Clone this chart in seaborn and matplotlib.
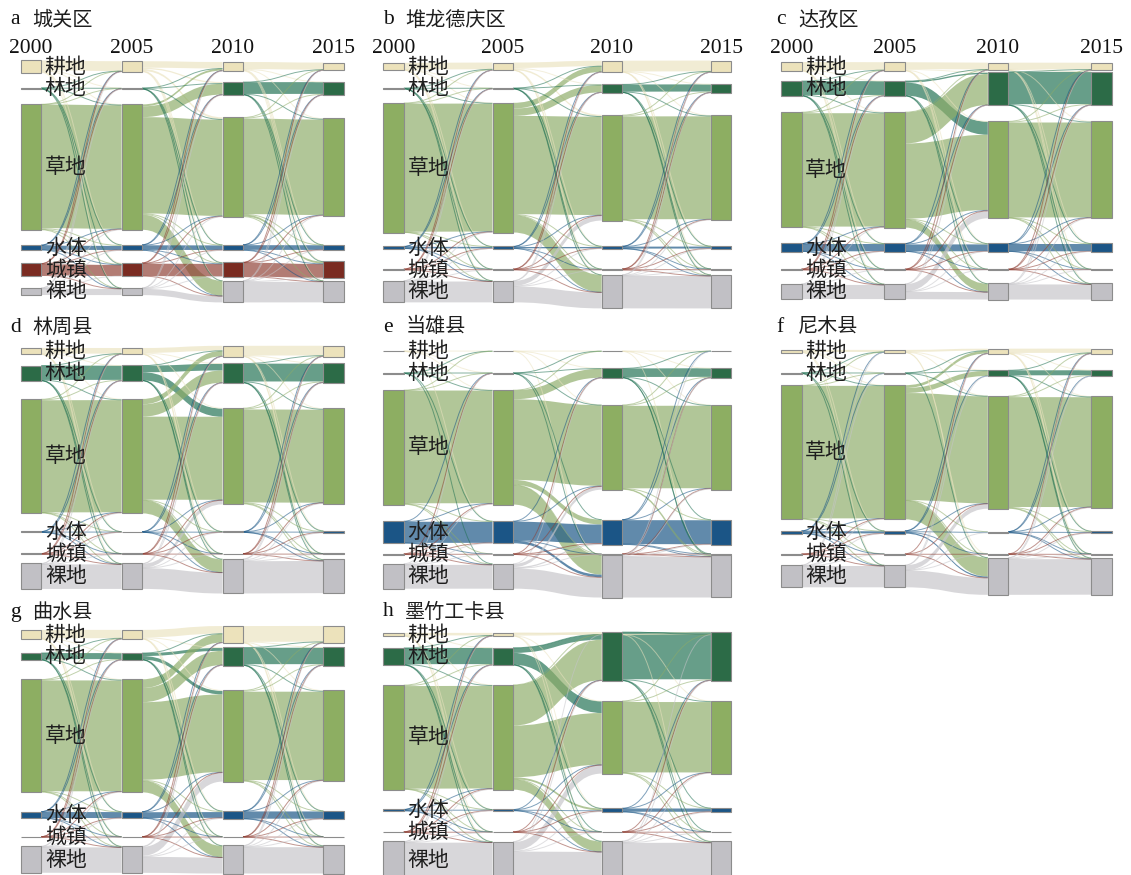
import numpy as np
import matplotlib
matplotlib.use("Agg")
import matplotlib.pyplot as plt
from matplotlib.path import Path
from matplotlib.patches import PathPatch, Rectangle
import seaborn as sns

sns.set_theme(style="white")
plt.rcParams["font.family"] = ["Noto Sans CJK SC", "DejaVu Sans"]

# ---------------------------------------------------------------------------
# Data: land-use transitions, % of county area.
# Rows = class at the start of the period, columns = class at its end,
# both in the order of CLASSES.
# ---------------------------------------------------------------------------
YEARS = ["2000", "2005", "2010", "2015"]
CLASSES = ["耕地", "林地", "草地", "水体", "城镇", "裸地"]
LETTERS = ["a", "b", "c", "d", "e", "f", "g", "h"]
COUNTIES = ["城关区", "堆龙德庆区", "达孜区", "林周县", "当雄县", "尼木县", "曲水县", "墨竹工卡县"]

chengguan_00_05 = [[6.0, 0.1, 0.3, 0.1, 0.8, 0.1],
                   [0.1, 0.3, 0.2, 0.1, 0.1, 0.1],
                   [0.1, 0.1, 75.6, 0.6, 0.3, 0.2],
                   [0.1, 0.1, 0.2, 2.5, 0.1, 0.1],
                   [0.1, 0.1, 0.2, 0.1, 6.8, 0.1],
                   [0.05, 0.05, 0.2, 0.1, 0.1, 3.8]]
chengguan_05_10 = [[3.95, 0.8, 1.2, 0.1, 0.3, 0.1],
                   [0.1, 0.3, 0.2, 0.05, 0.05, 0.05],
                   [1.2, 6.6, 58.9, 0.3, 0.5, 9.2],
                   [0.1, 0.1, 0.2, 2.8, 0.2, 0.1],
                   [0.1, 0.1, 0.2, 0.1, 7.6, 0.1],
                   [0.05, 0.05, 0.2, 0.1, 0.2, 3.8]]
chengguan_10_15 = [[4.35, 0.2, 0.3, 0.05, 0.5, 0.1],
                   [0.1, 7.2, 0.4, 0.05, 0.1, 0.1],
                   [0.2, 0.6, 58.4, 0.2, 1.2, 0.3],
                   [0.05, 0.05, 0.2, 2.85, 0.2, 0.1],
                   [0.05, 0.05, 0.1, 0.1, 8.45, 0.1],
                   [0.05, 0.1, 0.2, 0.1, 0.3, 12.6]]

duilong_00_05 = [[4.1, 0.05, 0.2, 0.05, 0.05, 0.05],
                 [0.1, 0.15, 0.2, 0.05, 0.05, 0.05],
                 [0.5, 0.2, 78.3, 0.2, 0.1, 0.3],
                 [0.05, 0.05, 0.2, 0.95, 0.05, 0.1],
                 [0.05, 0.05, 0.1, 0.05, 0.3, 0.05],
                 [0.05, 0.05, 0.3, 0.1, 0.05, 12.75]]
duilong_05_10 = [[3.3, 0.3, 1.0, 0.05, 0.1, 0.1],
                 [0.1, 0.1, 0.2, 0.05, 0.05, 0.05],
                 [3.5, 4.5, 60.1, 0.4, 0.2, 10.6],
                 [0.05, 0.05, 0.3, 0.8, 0.1, 0.1],
                 [0.05, 0.05, 0.1, 0.05, 0.25, 0.1],
                 [0.1, 0.1, 3.0, 0.3, 0.1, 9.7]]
duilong_10_15 = [[6.6, 0.1, 0.2, 0.05, 0.05, 0.1],
                 [0.1, 4.4, 0.4, 0.05, 0.05, 0.1],
                 [0.4, 0.6, 62.9, 0.2, 0.1, 0.5],
                 [0.05, 0.05, 0.2, 1.2, 0.05, 0.1],
                 [0.05, 0.05, 0.05, 0.05, 0.55, 0.05],
                 [0.1, 0.1, 0.3, 0.2, 0.1, 19.85]]

dazi_00_05 = [[4.8, 0.1, 0.4, 0.05, 0.05, 0.1],
              [0.1, 8.45, 0.4, 0.1, 0.05, 0.1],
              [0.2, 0.5, 69.35, 0.2, 0.05, 0.3],
              [0.05, 0.05, 0.2, 4.45, 0.05, 0.1],
              [0.05, 0.05, 0.1, 0.05, 0.3, 0.05],
              [0.05, 0.05, 0.3, 0.1, 0.05, 8.65]]
dazi_05_10 = [[4.15, 0.6, 0.3, 0.05, 0.05, 0.1],
              [0.1, 0.85, 8.0, 0.1, 0.05, 0.1],
              [0.3, 19.0, 46.0, 0.4, 0.05, 5.0],
              [0.05, 0.05, 0.5, 4.2, 0.05, 0.1],
              [0.05, 0.05, 0.1, 0.05, 0.25, 0.05],
              [0.05, 0.1, 4.5, 0.1, 0.05, 4.5]]
dazi_10_15 = [[4.1, 0.1, 0.3, 0.05, 0.05, 0.1],
              [0.2, 19.7, 0.5, 0.1, 0.05, 0.1],
              [0.2, 0.6, 58.05, 0.2, 0.05, 0.3],
              [0.05, 0.05, 0.2, 4.45, 0.05, 0.1],
              [0.05, 0.05, 0.05, 0.05, 0.25, 0.05],
              [0.05, 0.1, 0.3, 0.1, 0.05, 9.25]]

linzhou_00_05 = [[3.45, 0.1, 0.3, 0.05, 0.05, 0.05],
                 [0.1, 8.7, 0.4, 0.05, 0.05, 0.1],
                 [0.2, 0.5, 68.6, 0.1, 0.1, 0.3],
                 [0.05, 0.05, 0.2, 0.2, 0.05, 0.05],
                 [0.05, 0.05, 0.1, 0.05, 0.3, 0.05],
                 [0.05, 0.05, 0.4, 0.05, 0.05, 15.0]]
linzhou_05_10 = [[3.0, 0.3, 0.4, 0.05, 0.05, 0.1],
                 [0.1, 4.05, 5.0, 0.05, 0.05, 0.2],
                 [3.3, 7.5, 50.8, 0.3, 0.1, 8.0],
                 [0.05, 0.05, 0.2, 0.1, 0.05, 0.05],
                 [0.05, 0.05, 0.1, 0.05, 0.25, 0.1],
                 [0.1, 0.1, 2.5, 0.1, 0.05, 12.7]]
linzhou_10_15 = [[5.95, 0.1, 0.3, 0.1, 0.05, 0.1],
                 [0.2, 10.9, 0.5, 0.2, 0.05, 0.2],
                 [0.3, 0.6, 56.9, 0.5, 0.1, 0.6],
                 [0.05, 0.05, 0.1, 0.35, 0.05, 0.05],
                 [0.05, 0.05, 0.05, 0.05, 0.3, 0.05],
                 [0.1, 0.2, 0.6, 0.5, 0.05, 19.7]]

damxung_00_05 = [[0.1, 0.05, 0.1, 0.05, 0.0, 0.0],
                 [0.05, 0.1, 0.15, 0.05, 0.0, 0.05],
                 [0.1, 0.15, 68.95, 0.3, 0.1, 0.4],
                 [0.0, 0.05, 0.3, 12.9, 0.05, 0.2],
                 [0.0, 0.05, 0.1, 0.05, 0.25, 0.05],
                 [0.0, 0.05, 0.4, 0.2, 0.1, 14.55]]
damxung_05_10 = [[0.1, 0.05, 0.05, 0.0, 0.0, 0.05],
                 [0.05, 0.2, 0.1, 0.05, 0.0, 0.05],
                 [0.1, 5.5, 49.3, 3.0, 0.1, 12.0],
                 [0.0, 0.05, 0.3, 11.55, 0.05, 1.6],
                 [0.0, 0.05, 0.1, 0.05, 0.2, 0.1],
                 [0.0, 0.1, 2.0, 0.8, 0.05, 12.3]]
damxung_10_15 = [[0.1, 0.05, 0.05, 0.0, 0.0, 0.05],
                 [0.05, 5.25, 0.3, 0.1, 0.05, 0.2],
                 [0.05, 0.5, 50.45, 0.3, 0.05, 0.5],
                 [0.05, 0.1, 0.2, 14.65, 0.05, 0.4],
                 [0.0, 0.05, 0.05, 0.05, 0.2, 0.05],
                 [0.05, 0.2, 0.6, 0.3, 0.1, 24.85]]

nyemo_00_05 = [[1.25, 0.05, 0.2, 0.05, 0.0, 0.05],
               [0.05, 0.2, 0.2, 0.05, 0.0, 0.1],
               [0.2, 0.2, 81.05, 0.2, 0.05, 0.3],
               [0.05, 0.05, 0.2, 1.3, 0.05, 0.05],
               [0.0, 0.0, 0.1, 0.05, 0.3, 0.05],
               [0.05, 0.05, 0.3, 0.1, 0.05, 13.05]]
nyemo_05_10 = [[1.2, 0.1, 0.2, 0.0, 0.05, 0.05],
               [0.05, 0.35, 0.1, 0.0, 0.0, 0.05],
               [1.7, 3.1, 65.5, 0.2, 0.05, 11.5],
               [0.05, 0.05, 0.2, 0.6, 0.05, 0.8],
               [0.05, 0.0, 0.05, 0.0, 0.3, 0.05],
               [0.05, 0.1, 3.0, 0.05, 0.05, 10.35]]
nyemo_10_15 = [[2.6, 0.1, 0.2, 0.05, 0.05, 0.1],
               [0.1, 3.05, 0.3, 0.1, 0.05, 0.1],
               [0.3, 0.5, 67.2, 0.5, 0.05, 0.5],
               [0.05, 0.05, 0.1, 0.5, 0.05, 0.1],
               [0.05, 0.0, 0.05, 0.05, 0.3, 0.05],
               [0.1, 0.1, 0.5, 0.3, 0.05, 21.75]]

qushui_00_05 = [[5.1, 0.1, 0.3, 0.05, 0.05, 0.1],
                [0.1, 3.7, 0.4, 0.05, 0.05, 0.1],
                [0.3, 0.4, 67.8, 0.2, 0.1, 0.4],
                [0.05, 0.05, 0.2, 3.65, 0.05, 0.1],
                [0.05, 0.05, 0.05, 0.05, 0.15, 0.05],
                [0.05, 0.05, 0.4, 0.1, 0.05, 15.55]]
qushui_05_10 = [[4.65, 0.3, 0.5, 0.05, 0.05, 0.1],
                [0.1, 1.8, 2.2, 0.05, 0.05, 0.15],
                [5.3, 8.7, 47.45, 0.6, 0.1, 7.0],
                [0.05, 0.05, 0.3, 3.55, 0.05, 0.1],
                [0.05, 0.05, 0.05, 0.05, 0.2, 0.05],
                [0.2, 0.2, 5.5, 0.6, 0.05, 9.75]]
qushui_10_15 = [[9.65, 0.2, 0.3, 0.05, 0.05, 0.1],
                [0.2, 10.05, 0.5, 0.1, 0.05, 0.2],
                [0.4, 0.6, 54.05, 0.3, 0.05, 0.6],
                [0.05, 0.05, 0.2, 4.45, 0.05, 0.1],
                [0.05, 0.05, 0.05, 0.05, 0.25, 0.05],
                [0.1, 0.2, 0.5, 0.2, 0.05, 16.1]]

maizhokunggar_00_05 = [[1.55, 0.1, 0.2, 0.05, 0.05, 0.05],
                       [0.1, 9.9, 0.4, 0.05, 0.05, 0.1],
                       [0.2, 0.5, 62.75, 0.1, 0.05, 0.4],
                       [0.05, 0.05, 0.2, 0.5, 0.05, 0.05],
                       [0.05, 0.05, 0.05, 0.05, 0.15, 0.05],
                       [0.05, 0.1, 0.5, 0.1, 0.05, 21.3]]
maizhokunggar_05_10 = [[0.1, 1.6, 0.2, 0.05, 0.0, 0.05],
                       [0.05, 3.1, 7.2, 0.1, 0.05, 0.2],
                       [0.1, 24.8, 31.6, 1.2, 0.1, 6.3],
                       [0.0, 0.1, 0.2, 0.4, 0.05, 0.1],
                       [0.0, 0.05, 0.05, 0.05, 0.2, 0.05],
                       [0.05, 0.3, 5.2, 0.5, 0.05, 15.85]]
maizhokunggar_10_15 = [[0.15, 0.05, 0.05, 0.0, 0.0, 0.05],
                       [0.05, 28.85, 0.6, 0.1, 0.05, 0.3],
                       [0.05, 0.6, 43.05, 0.2, 0.05, 0.5],
                       [0.0, 0.05, 0.1, 2.0, 0.05, 0.1],
                       [0.0, 0.05, 0.05, 0.05, 0.25, 0.05],
                       [0.05, 0.3, 0.5, 0.2, 0.05, 21.45]]

TRANSITIONS = [
    (chengguan_00_05, chengguan_05_10, chengguan_10_15),
    (duilong_00_05, duilong_05_10, duilong_10_15),
    (dazi_00_05, dazi_05_10, dazi_10_15),
    (linzhou_00_05, linzhou_05_10, linzhou_10_15),
    (damxung_00_05, damxung_05_10, damxung_10_15),
    (nyemo_00_05, nyemo_05_10, nyemo_10_15),
    (qushui_00_05, qushui_05_10, qushui_10_15),
    (maizhokunggar_00_05, maizhokunggar_05_10, maizhokunggar_10_15),
]

# ---------------------------------------------------------------------------
# Style and layout
# ---------------------------------------------------------------------------
NODE_COLORS = sns.color_palette(["#ECE2BB", "#2C6B47", "#8DAE62", "#1B5586", "#7A2B21", "#C1C0C5"])
LINK_COLORS = sns.color_palette(["#EBE3C0", "#1F7052", "#8DAC68", "#165383", "#8E3E33", "#C6C5C9"])
LINK_ALPHA = 0.68
THIN_ALPHA = 0.55
NODE_EDGE = "#8C8C8C"

W, H = 1131, 875
PX_PER_PCT = 1.635      # vertical scale: pixels per percent of county area
NODE_W = 20.5           # node thickness, px
MIN_GAP = 9.0           # smallest gap between neighbouring nodes, px
LABEL_H = 22.0          # minimum centre distance so class labels do not collide, px
CENTER_SPAN = 225.0     # distance between first and last class centre, px
THIN_PX = 1.3           # flows thinner than this are drawn as hairlines

# panel columns: x of the first node column, spacing between year columns, x of title
GROUPS = [(20.7, 100.9, 10.0), (383.3, 109.2, 383.3), (781.0, 103.4, 776.0)]
# panel rows: y of the first class centre, y of the title line
ROWS = [(66.5, 20.0), (351.2, 327.0), (634.5, 612.0)]
PANEL_GRID = [(0, 0), (0, 1), (0, 2), (1, 0), (1, 1), (1, 2), (2, 0), (2, 1)]

SERIF = ["Liberation Serif", "DejaVu Serif"]
CJK = ["Noto Sans CJK SC", "DejaVu Sans"]


def class_centres(h):
    """Centres (px, relative to the first class) of the class lanes, from the
    2000 node heights: gaps wide enough for labels, spare room around the
    largest class."""
    gaps = [max(MIN_GAP, LABEL_H - (h[i] + h[i + 1]) / 2) for i in range(5)]
    used = h[0] / 2 + sum(h[1:5]) + h[5] / 2 + sum(gaps)
    extra = CENTER_SPAN - used
    big = int(np.argmax(h))
    adj = [g for g in (big - 1, big) if 0 <= g < 5]
    for g in adj:
        gaps[g] += extra / len(adj)
    c = [0.0]
    for i in range(5):
        c.append(c[-1] + h[i] / 2 + gaps[i] + h[i + 1] / 2)
    return np.array(c)


def band_path(x0, x1, ys, yt, w):
    xm = (x0 + x1) / 2
    verts = [(x0, ys), (xm, ys), (xm, yt), (x1, yt),
             (x1, yt + w), (xm, yt + w), (xm, ys + w), (x0, ys + w), (x0, ys)]
    codes = [Path.MOVETO, Path.CURVE4, Path.CURVE4, Path.CURVE4,
             Path.LINETO, Path.CURVE4, Path.CURVE4, Path.CURVE4, Path.CLOSEPOLY]
    return Path(verts, codes)


def line_path(x0, x1, ys, yt):
    xm = (x0 + x1) / 2
    return Path([(x0, ys), (xm, ys), (xm, yt), (x1, yt)],
                [Path.MOVETO, Path.CURVE4, Path.CURVE4, Path.CURVE4])


fig = plt.figure(figsize=(W / 100, H / 100), dpi=100)
fig.patch.set_facecolor("white")

for p, (flows, letter, county) in enumerate(zip(TRANSITIONS, LETTERS, COUNTIES)):
    row, grp = PANEL_GRID[p]
    gx, step, tx = GROUPS[grp]
    c0, ty = ROWS[row]
    mats = [np.array(m, dtype=float) for m in flows]

    # node values per year
    vals = [mats[0].sum(axis=1)]
    for k in range(1, 3):
        vals.append(np.maximum(mats[k - 1].sum(axis=0), mats[k].sum(axis=1)))
    vals.append(mats[2].sum(axis=0))

    # axes in which x = year index and y = percent of area (downwards)
    ax_top = c0 - 40.0
    ax_h = CENTER_SPAN + 80.0
    ax_w = 3 * step + NODE_W
    ax = fig.add_axes([gx / W, 1 - (ax_top + ax_h) / H, ax_w / W, ax_h / H])
    wn = NODE_W / step
    ax.set_xlim(0, 3 + wn)
    ax.set_ylim(ax_h / PX_PER_PCT, 0)
    ax.axis("off")

    centres = class_centres(vals[0] * PX_PER_PCT) / PX_PER_PCT + 40.0 / PX_PER_PCT
    tops = [centres - v / 2 for v in vals]

    # links
    thin = []
    for k, M in enumerate(mats):
        x0, x1 = k + wn, k + 1
        out_cum = np.cumsum(np.hstack([np.zeros((6, 1)), M[:, :-1]]), axis=1)
        in_cum = np.cumsum(np.vstack([np.zeros((1, 6)), M[:-1, :]]), axis=0)
        for i in range(6):
            for j in range(6):
                v = M[i, j]
                if v <= 0:
                    continue
                ys = tops[k][i] + out_cum[i, j]
                yt = tops[k + 1][j] + in_cum[i, j]
                if v * PX_PER_PCT < THIN_PX:
                    thin.append((line_path(x0, x1, ys + v / 2, yt + v / 2), i))
                else:
                    ax.add_patch(PathPatch(band_path(x0, x1, ys, yt, v),
                                           facecolor=LINK_COLORS[i], alpha=LINK_ALPHA,
                                           lw=0, zorder=1, clip_on=False))
    for path, i in thin:
        ax.add_patch(PathPatch(path, facecolor="none", edgecolor=LINK_COLORS[i],
                               alpha=THIN_ALPHA, lw=0.7, zorder=2, clip_on=False))

    # nodes
    for k in range(4):
        for i in range(6):
            ax.add_patch(Rectangle((k, tops[k][i]), wn, vals[k][i],
                                   facecolor=NODE_COLORS[i], edgecolor=NODE_EDGE,
                                   lw=0.8, zorder=3, clip_on=False))

    # class labels beside the 2000 column
    for i, name in enumerate(CLASSES):
        ax.annotate(name, xy=(wn, centres[i]), xytext=(2.6, 0), textcoords="offset points",
                    ha="left", va="center", fontsize=15, color="#1e1e1e",
                    family=CJK, zorder=6, annotation_clip=False)

    # panel title
    fig.text(tx / W, 1 - ty / H, letter, ha="left", va="center",
             fontsize=15.5, family=SERIF, color="#111111")
    fig.text((tx + 22) / W, 1 - ty / H, county, ha="left", va="center",
             fontsize=14.5, family=CJK, color="#1e1e1e")

    # year headers on the top row
    if row == 0:
        for k, yr in enumerate(YEARS):
            fig.text((gx + k * step + NODE_W / 2) / W, 1 - 53.3 / H, yr,
                     ha="center", va="baseline", fontsize=15.5, family=SERIF,
                     color="#111111")

fig.savefig("out.png", dpi=100, facecolor="white")
